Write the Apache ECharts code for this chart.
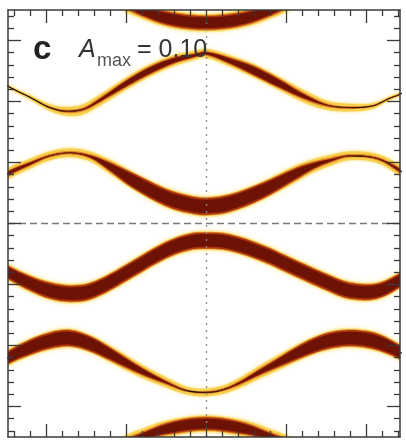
<!DOCTYPE html>
<html>
<head>
<meta charset="utf-8">
<script src="https://cdn.jsdelivr.net/npm/echarts@6/dist/echarts.min.js"></script>
<style>
  html, body { margin: 0; padding: 0; background: #fff; }
  #chart { width: 406px; height: 440px; }
</style>
</head>
<body>
<div id="chart"></div>
<script>
// panel extent and tick values
const xRange = [-2.475, 2.425];
const yRange = [-3.5, 3.5];
const xMajor = [-2, -1, 0, 1, 2];
const yMajor = [-3, -2, -1, 0, 1, 2, 3];

// bands: [x, y centre, half width, darkness 0..1]
const band1 = [
  [-2.7, 2.45, 0.03, 0], [-2.475, 2.25, 0.03, 0], [-2.2, 2.07, 0.04, 0],
  [-1.95, 1.9, 0.06, 0], [-1.74, 1.84, 0.08, 0.05], [-1.54, 1.87, 0.09, 0.1],
  [-1.33, 2.02, 0.1, 0.3], [-0.99, 2.3, 0.11, 0.6], [-0.7, 2.51, 0.11, 0.7],
  [-0.41, 2.67, 0.1, 0.6], [-0.16, 2.75, 0.08, 0.4], [0, 2.79, 0.08, 0.35],
  [0.29, 2.67, 0.1, 0.6], [0.59, 2.51, 0.12, 0.8], [0.91, 2.3, 0.12, 0.75],
  [1.25, 2.07, 0.11, 0.4], [1.54, 1.93, 0.08, 0.1], [1.84, 1.9, 0.07, 0],
  [2.09, 1.93, 0.05, 0], [2.29, 2.05, 0.03, 0], [2.425, 2.12, 0.03, 0],
  [2.65, 2.3, 0.03, 0]
];
const band2 = [
  [-2.7, 0.62, 0.1, 0.5], [-2.475, 0.82, 0.1, 0.45], [-2.2, 0.98, 0.09, 0.3],
  [-1.95, 1.11, 0.08, 0.1], [-1.7, 1.16, 0.08, 0.05], [-1.45, 1.1, 0.09, 0.25],
  [-1.2, 0.93, 0.13, 0.7], [-0.91, 0.7, 0.16, 1], [-0.49, 0.42, 0.18, 1],
  [-0.2, 0.31, 0.18, 1], [0, 0.28, 0.18, 1], [0.29, 0.33, 0.18, 1],
  [0.71, 0.54, 0.17, 1], [1.13, 0.82, 0.15, 0.8], [1.35, 0.95, 0.12, 0.55],
  [1.54, 1.03, 0.1, 0.3], [1.79, 1.11, 0.08, 0.05], [2.13, 1.07, 0.08, 0.1],
  [2.425, 0.87, 0.1, 0.35], [2.65, 0.66, 0.1, 0.45]
];
const band3 = [
  [-2.7, -0.62, 0.15, 0.9], [-2.475, -0.8, 0.15, 0.9], [-2.2, -0.98, 0.16, 0.95],
  [-1.95, -1.1, 0.17, 1], [-1.7, -1.15, 0.17, 1], [-1.45, -1.11, 0.17, 1],
  [-1.2, -0.96, 0.17, 1], [-0.91, -0.74, 0.17, 1], [-0.49, -0.43, 0.17, 1],
  [-0.2, -0.3, 0.17, 1], [0, -0.28, 0.17, 1], [0.29, -0.31, 0.17, 1],
  [0.71, -0.49, 0.17, 1], [1.13, -0.74, 0.17, 1], [1.54, -0.98, 0.17, 1],
  [1.79, -1.1, 0.17, 1], [2.13, -1.11, 0.16, 1], [2.425, -0.93, 0.15, 1],
  [2.65, -0.72, 0.15, 1]
];
const band4 = [
  [-2.7, -2.4, 0.15, 0.9], [-2.475, -2.2, 0.15, 0.9], [-2.2, -2.03, 0.16, 1],
  [-1.95, -1.92, 0.17, 1], [-1.7, -1.88, 0.17, 1], [-1.45, -1.97, 0.16, 1],
  [-1.21, -2.13, 0.15, 0.9], [-0.82, -2.41, 0.12, 0.6], [-0.49, -2.61, 0.09, 0.25],
  [-0.24, -2.74, 0.07, 0], [0, -2.77, 0.07, 0], [0.29, -2.69, 0.08, 0.1],
  [0.71, -2.41, 0.12, 0.5], [1.13, -2.13, 0.15, 0.9], [1.35, -2.0, 0.16, 1],
  [1.54, -1.92, 0.17, 1], [1.75, -1.88, 0.17, 1], [1.95, -1.89, 0.17, 1],
  [2.16, -1.95, 0.17, 1], [2.425, -2.11, 0.15, 1], [2.65, -2.3, 0.15, 1]
];
const band5 = [
  [-1.1, 3.7, 0.15, 0.7], [-0.75, 3.47, 0.15, 0.8], [-0.4, 3.34, 0.16, 0.9],
  [0, 3.29, 0.16, 0.9], [0.4, 3.34, 0.16, 0.9], [0.75, 3.47, 0.15, 0.8],
  [1.1, 3.7, 0.15, 0.7]
];
const band6 = [
  [-1.1, -3.7, 0.15, 0.7], [-0.75, -3.47, 0.14, 0.6], [-0.4, -3.34, 0.15, 0.85],
  [0, -3.28, 0.15, 0.9], [0.4, -3.34, 0.15, 0.85], [0.75, -3.47, 0.14, 0.6],
  [1.1, -3.7, 0.15, 0.7]
];

const INK = '#3a3a3a';
const FONT = '"Liberation Sans", Arial, sans-serif';

function minorsOf(lo, hi) {
  const out = [];
  for (let k = Math.ceil(lo * 5); k <= Math.floor(hi * 5); k++) {
    if (k % 5 !== 0) out.push(k / 5);
  }
  return out;
}
const xMinor = minorsOf(xRange[0], xRange[1]);
const yMinor = minorsOf(yRange[0], yRange[1]);

// colour shells of a band, outside in; f gives the share of the half width
const outerShells = [
  { color: '#fdf1bf', f: c => 1, blur: 5 },
  { color: '#f7cf4a', f: c => 0.86, blur: 2 },
  { color: '#e0862a', f: c => 0.32 + 0.5 * c }
];
const innerShells = [
  { color: '#ab340e', f: c => 0.74 * c, blur: 1.5 },
  { color: '#6c1306', f: c => 0.6 * c }
];

function bandSeries(pts, shells, z) {
  return {
    type: 'custom',
    coordinateSystem: 'cartesian2d',
    clip: true,
    silent: true,
    z,
    data: pts,
    renderItem(params, api) {
      if (params.dataIndex !== 0) return null;
      const centres = pts.map(p => api.coord([p[0], p[1]]));
      const halfs = pts.map(p => api.size([0, p[2]])[1]);
      const children = shells.map(s => {
        const top = [], bottom = [];
        pts.forEach((p, i) => {
          const h = Math.max(halfs[i] * s.f(p[3]), 0.1);
          top.push([centres[i][0], centres[i][1] - h]);
          bottom.push([centres[i][0], centres[i][1] + h]);
        });
        const style = { fill: s.color };
        if (s.blur) {
          style.shadowBlur = s.blur;
          style.shadowColor = s.color;
        }
        return {
          type: 'polygon',
          shape: { points: top.concat(bottom.reverse()), smooth: 0.35 },
          style
        };
      });
      const cs = params.coordSys;
      return {
        type: 'group',
        children,
        clipPath: { type: 'rect', shape: { x: cs.x, y: cs.y, width: cs.width, height: cs.height } }
      };
    }
  };
}

function curve(pts) {
  return {
    type: 'line',
    data: pts.map(p => [p[0], p[1]]),
    smooth: 0.35,
    symbol: 'none',
    silent: true,
    z: 3,
    lineStyle: { color: '#111', width: 1.2 }
  };
}

function tickAxis(kind, position, ticks, len, lineOn) {
  const range = kind === 'x' ? xRange : yRange;
  return {
    type: 'value',
    position,
    min: range[0],
    max: range[1],
    z: 10,
    axisLine: { show: lineOn, onZero: false, lineStyle: { color: INK, width: 1.5 } },
    axisTick: { show: true, inside: true, length: len, customValues: ticks, lineStyle: { color: INK, width: 1.3 } },
    axisLabel: { show: false },
    splitLine: { show: false }
  };
}

const bands = [band1, band2, band3, band4, band5, band6];

const chart = echarts.init(document.getElementById('chart'));

chart.setOption({
  backgroundColor: '#fff',
  animation: false,
  grid: { left: 8, top: 10, width: 392, height: 427, show: false },
  xAxis: [
    tickAxis('x', 'bottom', xMajor, 13, true),
    tickAxis('x', 'bottom', xMinor, 6, false),
    tickAxis('x', 'top', xMajor, 13, true),
    tickAxis('x', 'top', xMinor, 6, false)
  ],
  yAxis: [
    tickAxis('y', 'left', yMajor, 13, true),
    tickAxis('y', 'left', yMinor, 6, false),
    tickAxis('y', 'right', yMajor, 13, true),
    tickAxis('y', 'right', yMinor, 6, false)
  ],
  series: [
    ...bands.map(b => bandSeries(b, outerShells, 2)),
    curve(band2),
    curve(band4),
    curve(band1),
    ...bands.map(b => bandSeries(b, innerShells, 4)),
    {
      type: 'line',
      data: [],
      z: 5,
      markLine: {
        silent: true,
        symbol: 'none',
        label: { show: false },
        data: [
          { xAxis: 0, lineStyle: { color: '#8a8a8a', type: [2, 5], width: 1.3 } },
          { yAxis: 0, lineStyle: { color: '#7a7a7a', type: [7, 4], width: 1.3 } }
        ]
      }
    }
  ],
  graphic: [
    { type: 'text', x: 33, y: 50, z: 20, style: { text: 'c', font: 'bold 33px ' + FONT, fill: '#222', verticalAlign: 'middle' } },
    { type: 'text', x: 79, y: 50, z: 20, style: { text: 'A', font: 'italic 25px ' + FONT, fill: '#333', verticalAlign: 'middle' } },
    { type: 'text', x: 97, y: 61, z: 20, style: { text: 'max', font: '18px ' + FONT, fill: '#555', verticalAlign: 'middle' } },
    { type: 'text', x: 137, y: 50, z: 20, style: { text: '= 0.10', font: '25px ' + FONT, fill: '#333', verticalAlign: 'middle' } }
  ]
});
</script>
</body>
</html>
